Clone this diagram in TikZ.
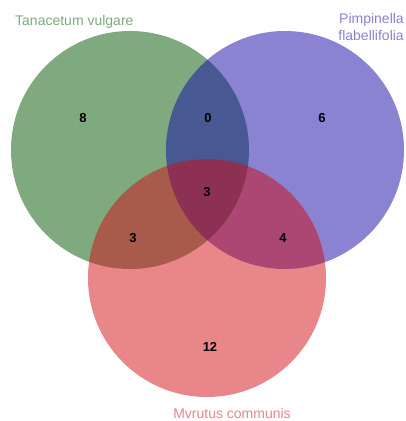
\documentclass[tikz,border=0pt]{standalone}
\usepackage{fontspec}
\setmainfont{Liberation Sans}
\usepackage{xcolor}
\usetikzlibrary{positioning}
\definecolor{setgreen}{RGB}{0,85,0}
\definecolor{setblue}{RGB}{19,7,165}
\definecolor{setred}{RGB}{209,13,21}
\definecolor{labgreen}{RGB}{125,170,125}
\definecolor{labblue}{RGB}{137,131,210}
\definecolor{labred}{RGB}{232,134,138}

\begin{document}
\begin{tikzpicture}[
        x=1pt, y=-1pt,
        set/.style={circle, minimum size=238pt, inner sep=0pt, fill opacity=0.5},
        count/.style={font=\fontsize{13}{15}\selectfont\bfseries, inner sep=1pt},
        setlabel/.style={font=\fontsize{14}{17}\selectfont, inner sep=0pt}
    ]
        \useasboundingbox (0,0) rectangle (405,421);

        % Sets
        \node[set, fill=setgreen] (tana) at (130,150) {};
        \node[set, fill=setblue] (pimp) at (285,150) {};
        \node[set, fill=setred] (myrt) at (207,278) {};

        % Set names
        \node[setlabel, text=labgreen, anchor=west] (tananame) at (15,22) {Tanacetum vulgare};
        \node[setlabel, text=labblue, anchor=north east, align=right] (pimpname) at (404,13) {Pimpinella\\flabellifolia};
        \node[setlabel, text=labred] (myrtname) at (232,413) {Mvrutus communis};

        % Counts
        \node[count] (onlytana) at (83,118) {8};
        \node[count] (tanapimp) at (208,118) {0};
        \node[count] (onlypimp) at (322,118) {6};
        \node[count] (allthree) at (207,192) {3};
        \node[count] (tanamyrt) at (133,238) {3};
        \node[count] (pimpmyrt) at (283,238) {4};
        \node[count] (onlymyrt) at (210,347) {12};
    \end{tikzpicture}
\end{document}
